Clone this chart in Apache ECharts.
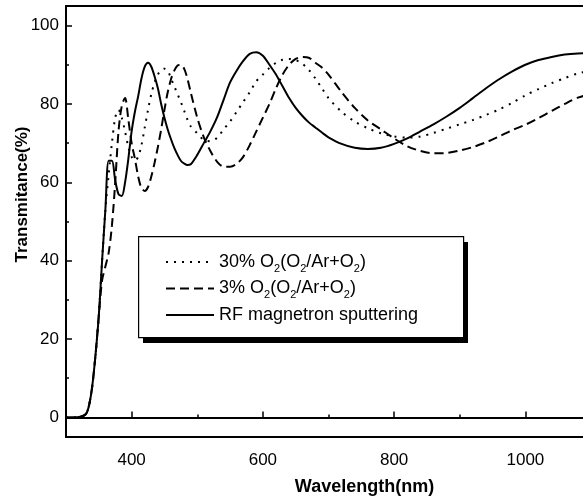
<!DOCTYPE html>
<html>
<head>
<meta charset="utf-8">
<script src="https://cdn.jsdelivr.net/npm/echarts@6/dist/echarts.min.js"></script>
<style>
  html, body { margin: 0; padding: 0; background: #fff; }
  #main { width: 583px; height: 504px; }
</style>
</head>
<body>
<div id="main"></div>
<script>
// wavelength (nm), shared by all three curves
var wavelength = [300, 310, 320, 330, 335, 340, 345, 350, 355, 360,
  365, 370, 375, 380, 385, 390, 395, 400, 405, 410,
  415, 420, 425, 430, 435, 440, 445, 450, 455, 460,
  465, 470, 475, 480, 485, 490, 500, 510, 520, 530,
  540, 550, 560, 570, 580, 590, 600, 610, 620, 630,
  640, 650, 660, 670, 680, 690, 700, 720, 740, 760,
  780, 800, 820, 840, 860, 880, 900, 920, 940, 960,
  980, 1000, 1020, 1040, 1060, 1080, 1100];

// transmittance (%)
var o2_30 = [0, 0, 0.1, 0.8, 3, 8, 16, 26, 40, 53,
  62, 70, 76.5, 78.5, 76.5, 73, 69, 66.5, 65.5, 66.5,
  69.5, 74, 78.5, 82.5, 85.5, 87.5, 88.7, 89, 88.5, 86.5,
  84.5, 82.5, 80.5, 78.3, 76, 74.3, 72.5, 70.8, 70.5, 71.3,
  73.5, 75.5, 78, 80.5, 83, 85.8, 87.5, 89.2, 90.5, 91.3,
  91.5, 91.2, 90.3, 88.7, 86.5, 84, 81.5, 78, 75.5, 73.8,
  72.5, 71.7, 71.4, 71.7, 72.6, 73.7, 74.8, 75.9, 77.2, 78.6,
  80.3, 82.2, 83.8, 85.3, 86.6, 87.8, 88.5];

var o2_3 = [0, 0, 0.1, 0.8, 3, 8, 16, 26, 35, 38.5,
  42, 49, 60, 73, 79.5, 81.5, 76, 70, 66, 61.5,
  58.5, 57.8, 58.8, 61.5, 65, 69, 73.5, 78.5, 83, 86.3,
  88.5, 89.8, 90, 89, 86.5, 83, 76.5, 71.5, 68, 65.3,
  64, 64, 64.7, 66.5, 69.5, 73, 76.5, 80, 84, 87.5,
  90, 91.5, 92, 91.8, 90.5, 89.3, 87.5, 83, 79, 75.8,
  73.5, 71.2, 69.2, 68, 67.4, 67.5, 68.1, 69, 70.2, 71.7,
  73.3, 74.7, 76.4, 78.2, 80, 81.6, 82.5];

var rf = [0, 0, 0.1, 0.8, 3, 8, 16, 26, 40, 53,
  65.5, 65.5, 60.5, 57, 56.5, 60, 66, 73, 78, 82,
  86.5, 89.5, 90.5, 89.5, 87, 84, 80, 76.5, 73.5, 71,
  68.8, 67, 65.5, 64.8, 64.4, 64.6, 67, 70, 73, 76.5,
  81, 85.5, 88.5, 91, 92.8, 93.2, 92.3, 90, 87.5, 84.5,
  81.5, 79, 77, 75.3, 74, 72.7, 71.5, 69.8, 68.8, 68.5,
  68.8, 69.8, 71.2, 73, 74.8, 76.8, 79, 81.5, 84, 86.3,
  88.3, 90, 91.2, 92, 92.6, 92.9, 93];

var seriesNames = ['30% O2(O2/Ar+O2)', '3% O2(O2/Ar+O2)', 'RF magnetron sputtering'];

function pairs(vals) {
  return wavelength.map(function (w, i) { return [w, vals[i]]; });
}

var font = 'Liberation Sans, Arial, Helvetica, sans-serif';

var myChart = echarts.init(document.getElementById('main'));
myChart.setOption({
  backgroundColor: '#fff',
  animation: false,
  grid: {
    left: 66, top: 6, right: -8, bottom: 67,
    show: true, borderColor: '#000', borderWidth: 1.8,
    outerBoundsMode: 'none'
  },
  // legend frame with its hard black drop shadow
  graphic: [
    { type: 'rect', left: 143, top: 242, z: 1, shape: { width: 325, height: 101 }, style: { fill: '#000' } },
    { type: 'rect', left: 138, top: 236, z: 2, shape: { width: 325, height: 101 }, style: { fill: '#fff', stroke: '#000', lineWidth: 1.2 } }
  ],
  legend: {
    orient: 'vertical',
    left: 138, top: 236, z: 10,
    padding: [14, 45, 10, 27],
    itemWidth: 48, itemHeight: 14, itemGap: 2.5,
    itemStyle: { opacity: 0 },
    data: seriesNames,
    formatter: function (name) { return name.replace(/O2/g, 'O{s|2}'); },
    textStyle: {
      fontFamily: font, fontSize: 18, color: '#000', lineHeight: 24,
      rich: { s: { fontFamily: font, fontSize: 11, lineHeight: 11, verticalAlign: 'bottom', color: '#000' } }
    }
  },
  xAxis: [
    {
      type: 'value', min: 300, max: 1100, splitNumber: 4,
      name: 'Wavelength(nm)', nameLocation: 'middle', nameGap: 41, nameMoveOverlap: false,
      nameTextStyle: { fontFamily: font, fontSize: 18, fontWeight: 'bold', color: '#000', padding: [0, 0, 0, 72] },
      axisLine: { lineStyle: { color: '#000', width: 2 } },
      axisTick: { inside: true, length: 6, lineStyle: { color: '#000', width: 1.5 } },
      axisLabel: {
        margin: 15, fontFamily: font, fontSize: 17, color: '#000',
        formatter: function (v) { return v % 200 === 0 ? String(v) : ''; }
      },
      splitLine: { show: false }
    },
    {
      type: 'value', min: 300, max: 1100, interval: 100, position: 'bottom',
      axisLine: { show: false },
      axisTick: { inside: true, length: 3, lineStyle: { color: '#000', width: 1.5 } },
      axisLabel: { show: false },
      splitLine: { show: false }
    }
  ],
  yAxis: [
    {
      type: 'value', min: -5, max: 105, splitNumber: 5,
      name: 'Transmitance(%)', nameLocation: 'middle', nameGap: 35, nameMoveOverlap: false,
      nameTextStyle: { fontFamily: font, fontSize: 17, fontWeight: 'bold', color: '#000', padding: [0, 0, 0, 54] },
      axisLine: { lineStyle: { color: '#000', width: 2 } },
      axisTick: { inside: true, length: 6, lineStyle: { color: '#000', width: 1.5 } },
      axisLabel: {
        margin: 7, fontFamily: font, fontSize: 17, color: '#000',
        formatter: function (v) { return v % 20 === 0 ? String(v) : ''; }
      },
      splitLine: { show: false }
    },
    {
      type: 'value', min: -5, max: 105, splitNumber: 11, position: 'left',
      axisLine: { show: false },
      axisTick: { inside: true, length: 3, lineStyle: { color: '#000', width: 1.5 } },
      axisLabel: { show: false },
      splitLine: { show: false }
    }
  ],
  series: [
    {
      name: seriesNames[0], type: 'line', smooth: 0.3, symbol: 'none',
      data: pairs(o2_30),
      lineStyle: { color: '#000', width: 2, type: [2, 6] },
      itemStyle: { color: '#000' }
    },
    {
      name: seriesNames[1], type: 'line', smooth: 0.3, symbol: 'none',
      data: pairs(o2_3),
      lineStyle: { color: '#000', width: 2, type: [9, 5] },
      itemStyle: { color: '#000' }
    },
    {
      name: seriesNames[2], type: 'line', smooth: 0.3, symbol: 'none',
      data: pairs(rf),
      lineStyle: { color: '#000', width: 2 },
      itemStyle: { color: '#000' }
    }
  ]
});
</script>
</body>
</html>
